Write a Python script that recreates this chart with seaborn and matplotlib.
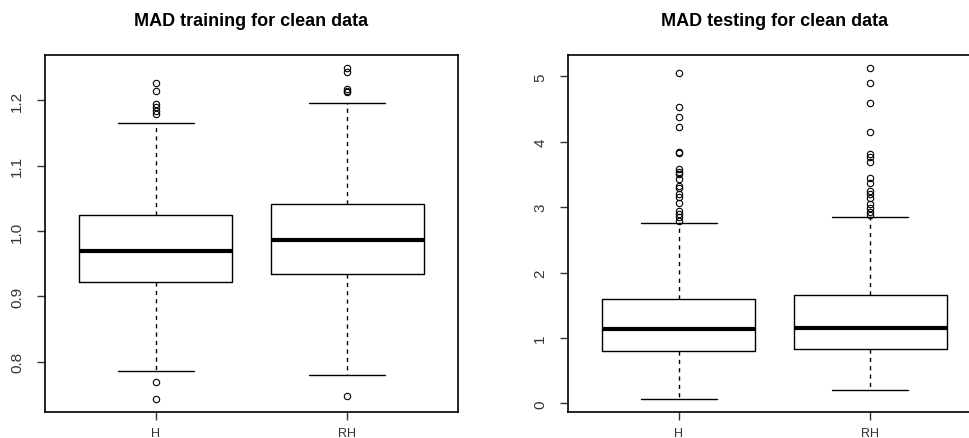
import matplotlib
matplotlib.use("Agg")
import matplotlib.pyplot as plt
import seaborn as sns

sns.set_style("white", {"xtick.bottom": True, "ytick.left": True})
plt.rcParams['font.family'] = ['Liberation Sans', 'DejaVu Sans']

# box statistics
groups = ["H", "RH"]

train_whislo = [0.7855, 0.7794]
train_q1 = [0.922, 0.9338]
train_med = [0.969, 0.9857]
train_q3 = [1.0249, 1.0408]
train_whishi = [1.1647, 1.196]
train_fliers_h = [1.2258, 1.2136, 1.194, 1.189, 1.184, 1.179, 0.7696, 0.743]
train_fliers_rh = [1.2488, 1.2437, 1.217, 1.2146, 1.213, 0.7473]

test_whislo = [0.066, 0.203]
test_q1 = [0.805, 0.835]
test_med = [1.141, 1.156]
test_q3 = [1.59, 1.651]
test_whishi = [2.757, 2.854]
test_fliers_h = [5.046, 4.535, 4.373, 4.23, 3.847, 3.822, 3.58, 3.54, 3.506,
                 3.43, 3.327, 3.29, 3.198, 3.149, 3.07, 2.945, 2.894, 2.844, 2.793]
test_fliers_rh = [5.122, 4.898, 4.597, 4.143, 3.812, 3.761, 3.685, 3.44, 3.368,
                  3.251, 3.2, 3.135, 3.047, 2.982, 2.92, 2.879]

train_ticks = [0.8, 0.9, 1.0, 1.1, 1.2]
train_ticklabels = ["0.8", "0.9", "1.0", "1.1", "1.2"]
test_ticks = [0, 1, 2, 3, 4, 5]
test_ticklabels = ["0", "1", "2", "3", "4", "5"]


def make_stats(whislo, q1, med, q3, whishi, fliers):
    out = []
    for i, g in enumerate(groups):
        out.append({"label": g, "whislo": whislo[i], "q1": q1[i], "med": med[i],
                    "q3": q3[i], "whishi": whishi[i], "fliers": fliers[i]})
    return out


def draw_box(ax, stats, ylim, ticks, ticklabels):
    ax.bxp(stats, positions=[1, 2], widths=0.8, capwidths=0.4, showfliers=True,
           boxprops=dict(color='black', linewidth=1.0),
           medianprops=dict(color='black', linewidth=3.0, solid_capstyle='butt'),
           whiskerprops=dict(color='black', linewidth=1.0, linestyle=(0, (3, 3))),
           capprops=dict(color='black', linewidth=1.0),
           flierprops=dict(marker='o', markerfacecolor='none', markeredgecolor='black',
                           markersize=4.6, markeredgewidth=0.8, linestyle='none'))
    ax.set_xlim(0.42, 2.58)
    ax.set_ylim(*ylim)
    ax.set_yticks(ticks)
    ax.set_yticklabels(ticklabels)
    ax.set_xticks([1, 2])
    ax.set_xticklabels(groups)
    for s in ax.spines.values():
        s.set_visible(True)
        s.set_color('black')
        s.set_linewidth(1.2)
    ax.tick_params(axis='y', left=True, direction='out', length=6, width=1, color='#333333',
                   labelrotation=90, labelsize=11, pad=9, labelcolor='#333333')
    ax.tick_params(axis='x', bottom=True, direction='out', length=6, width=1, color='#333333',
                   labelsize=9, pad=5, labelcolor='#333333')
    for lab in ax.get_yticklabels():
        lab.set_verticalalignment('center')


fig = plt.figure(figsize=(9.7, 4.39), dpi=100)
ax1 = fig.add_axes([45 / 970, 1 - 413 / 439, 413 / 970, 357 / 439])
ax2 = fig.add_axes([568 / 970, 1 - 413 / 439, 413 / 970, 357 / 439])

draw_box(ax1, make_stats(train_whislo, train_q1, train_med, train_q3, train_whishi,
                         [train_fliers_h, train_fliers_rh]),
         (0.7233, 1.269), train_ticks, train_ticklabels)
draw_box(ax2, make_stats(test_whislo, test_q1, test_med, test_q3, test_whishi,
                         [test_fliers_h, test_fliers_rh]),
         (-0.133, 5.327), test_ticks, test_ticklabels)

fig.text(251.5 / 970, 1 - 21 / 439, "MAD training for clean data", ha='center', va='center',
         fontsize=13, fontweight='bold', color='black')
fig.text(774.5 / 970, 1 - 21 / 439, "MAD testing for clean data", ha='center', va='center',
         fontsize=13, fontweight='bold', color='black')

fig.savefig("out.png", dpi=100)
